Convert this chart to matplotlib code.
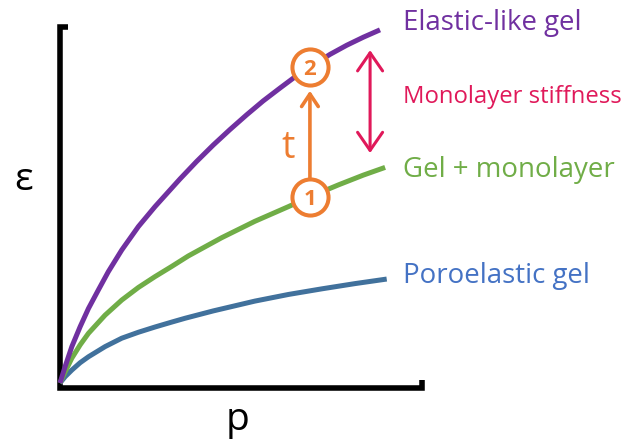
import matplotlib
matplotlib.use("Agg")
import matplotlib.pyplot as plt

plt.rcParams['font.family'] = ['Open Sans', 'DejaVu Sans']

# ---- data ----
p_elastic = [0, 0.016, 0.037, 0.063, 0.089, 0.120, 0.151, 0.193, 0.245, 0.297,
             0.375, 0.427, 0.479, 0.531, 0.583, 0.635, 0.688, 0.729, 0.781,
             0.844, 0.896, 0.948, 1.0]
eps_elastic = [0, 0.047, 0.104, 0.161, 0.213, 0.266, 0.318, 0.380, 0.447, 0.504,
               0.583, 0.633, 0.680, 0.724, 0.766, 0.806, 0.843, 0.871, 0.903,
               0.939, 0.965, 0.988, 1.009]

p_mono = [0, 0.016, 0.037, 0.063, 0.089, 0.141, 0.193, 0.245, 0.297, 0.349,
          0.401, 0.505, 0.609, 0.714, 0.781, 0.870, 0.948, 1.016]
eps_mono = [0, 0.032, 0.071, 0.109, 0.142, 0.194, 0.237, 0.273, 0.304, 0.333,
            0.363, 0.415, 0.462, 0.504, 0.532, 0.566, 0.594, 0.616]

p_poro = [0, 0.016, 0.037, 0.063, 0.089, 0.141, 0.193, 0.245, 0.297, 0.349,
          0.391, 0.479, 0.609, 0.714, 0.818, 0.922, 1.021]
eps_poro = [0, 0.018, 0.037, 0.058, 0.075, 0.104, 0.128, 0.145, 0.160, 0.174,
            0.185, 0.206, 0.234, 0.253, 0.269, 0.284, 0.297]

t_elastic_idx = 18  # state 2 (p = 0.781)
t_mono_idx = 14     # state 1 (p = 0.781)

labels = ["Elastic-like gel", "Gel + monolayer", "Poroelastic gel"]
stiff_label = "Monolayer stiffness"

# ---- styles ----
c_purple = "#7030A0"
c_green = "#70AD47"
c_blue_line = "#41719C"
c_blue_text = "#4472C4"
c_orange = "#ED7D31"
c_red = "#E0195A"

fig = plt.figure(figsize=(6.25, 4.41), dpi=100)
W, H = 625, 441
ax = fig.add_axes([60 / W, (H - 383) / H, 320 / W, 350 / H])
ax.set_xlim(0, 1)
ax.set_ylim(0, 1)
ax.axis('off')

# frame with small caps
ax.plot([0.025, 0, 0, 1.13, 1.13], [1.017, 1.017, -0.014, -0.014, 0.009],
        color='black', lw=4.0, solid_joinstyle='miter', solid_capstyle='butt',
        clip_on=False, zorder=1)

lw_curve = 3.6
ax.plot(p_poro, eps_poro, color=c_blue_line, lw=lw_curve, clip_on=False, zorder=2,
        solid_capstyle='butt', solid_joinstyle='round')
ax.plot(p_mono, eps_mono, color=c_green, lw=lw_curve, clip_on=False, zorder=3,
        solid_capstyle='butt', solid_joinstyle='round')
ax.plot(p_elastic, eps_elastic, color=c_purple, lw=lw_curve, clip_on=False, zorder=4,
        solid_capstyle='butt', solid_joinstyle='round')

# time arrow between the two states
pt = p_elastic[t_elastic_idx]
e1 = eps_mono[t_mono_idx]
e2 = eps_elastic[t_elastic_idx]
ax.annotate("", xy=(pt, e2 - 0.068), xytext=(pt, e1 + 0.05),
            arrowprops=dict(arrowstyle="->,head_length=0.9,head_width=0.6",
                            color=c_orange, lw=2.6, mutation_scale=10,
                            shrinkA=0, shrinkB=0), zorder=5)
for e, s in [(e1, "1"), (e2, "2")]:
    ax.plot([pt], [e], marker='o', markersize=26, markerfacecolor='white',
            markeredgecolor=c_orange, markeredgewidth=2.9, clip_on=False, zorder=6)
    ax.text(pt, e, s, color=c_orange, fontsize=16, fontweight='bold',
            ha='center', va='center_baseline', zorder=7)
ax.text(0.7125, 0.643, "t", color=c_orange, fontsize=27, ha='center', va='baseline')

# monolayer stiffness double arrow
ax.annotate("", xy=(0.969, 0.951), xytext=(0.969, 0.657),
            arrowprops=dict(arrowstyle="<->,head_length=1.3,head_width=0.9",
                            color=c_red, lw=2.2, mutation_scale=10,
                            shrinkA=0, shrinkB=0))

# labels
ax.text(1.072, 1.009, labels[0], color=c_purple, fontsize=19.9, ha='left', va='baseline')
ax.text(1.072, 0.799, stiff_label, color=c_red, fontsize=17.2, ha='left', va='baseline')
ax.text(1.072, 0.589, labels[1], color=c_green, fontsize=19.9, ha='left', va='baseline')
ax.text(1.072, 0.285, labels[2], color=c_blue_text, fontsize=19.9, ha='left', va='baseline')

# axis labels
ax.text(-0.1125, 0.551, "ε", color='black', fontsize=28, ha='center', va='baseline')
ax.text(0.555, -0.134, "p", color='black', fontsize=28, ha='center', va='baseline')

fig.savefig("out.png", dpi=100)
